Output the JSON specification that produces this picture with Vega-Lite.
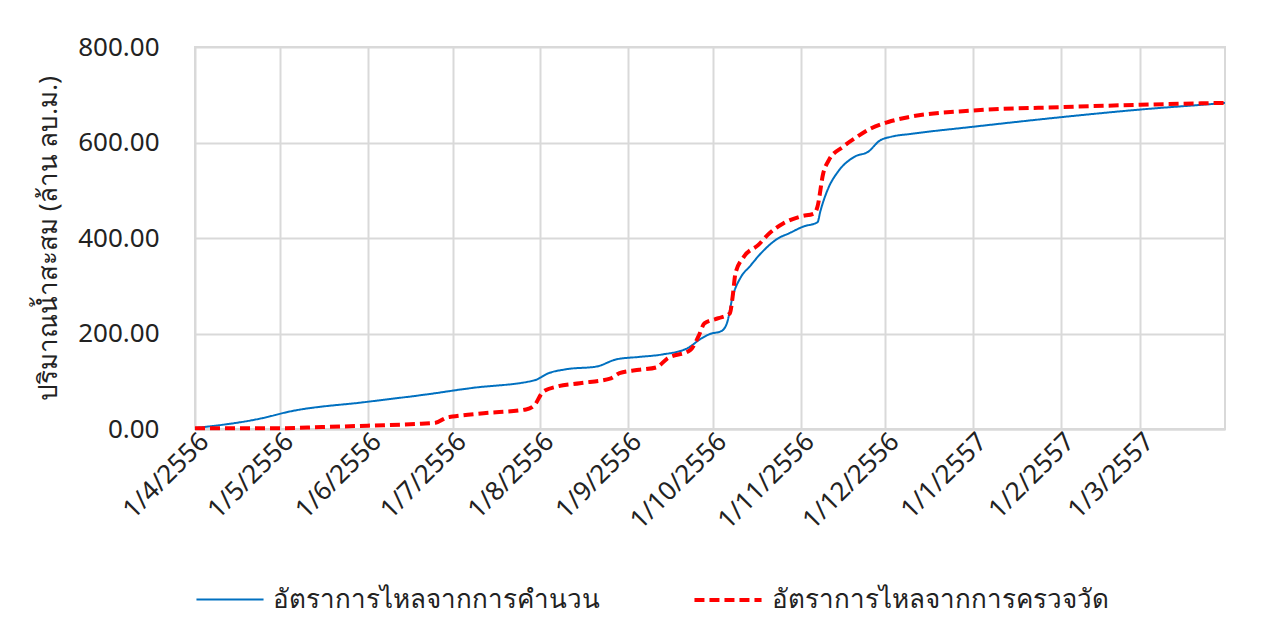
{
  "$schema": "https://vega.github.io/schema/vega-lite/v6.json",
  "width": 1030,
  "height": 382,
  "autosize": {"type": "none"},
  "padding": {"left": 195, "top": 47, "right": 55, "bottom": 191},
  "background": "white",
  "config": {
    "font": "Noto Sans",
    "view": {"stroke": "#d9d9d9", "strokeWidth": 2},
    "axis": {"grid": true, "gridColor": "#d9d9d9", "gridWidth": 2, "ticks": false, "labelColor": "#222222", "labelFont": "Noto Sans", "labelFontSize": 26, "titleFontWeight": "normal"},
    "legend": {"labelFontSize": 26, "labelColor": "#222222", "labelLimit": 600}
  },
  "data": {
    "values": [
      {"date": "2013-04-01", "series": "อัตราการไหลจากการคำนวน", "value": 2},
      {"date": "2013-04-25", "series": "อัตราการไหลจากการคำนวน", "value": 23},
      {"date": "2013-05-04", "series": "อัตราการไหลจากการคำนวน", "value": 36},
      {"date": "2013-06-01", "series": "อัตราการไหลจากการคำนวน", "value": 57},
      {"date": "2013-06-25", "series": "อัตราการไหลจากการคำนวน", "value": 75},
      {"date": "2013-07-03", "series": "อัตราการไหลจากการคำนวน", "value": 82},
      {"date": "2013-07-08", "series": "อัตราการไหลจากการคำนวน", "value": 86},
      {"date": "2013-07-30", "series": "อัตราการไหลจากการคำนวน", "value": 102},
      {"date": "2013-08-04", "series": "อัตราการไหลจากการคำนวน", "value": 117},
      {"date": "2013-08-10", "series": "อัตราการไหลจากการคำนวน", "value": 125},
      {"date": "2013-08-21", "series": "อัตราการไหลจากการคำนวน", "value": 131},
      {"date": "2013-08-28", "series": "อัตราการไหลจากการคำนวน", "value": 146},
      {"date": "2013-09-05", "series": "อัตราการไหลจากการคำนวน", "value": 151},
      {"date": "2013-09-13", "series": "อัตราการไหลจากการคำนวน", "value": 156},
      {"date": "2013-09-22", "series": "อัตราการไหลจากการคำนวน", "value": 169},
      {"date": "2013-09-27", "series": "อัตราการไหลจากการคำนวน", "value": 190},
      {"date": "2013-09-30", "series": "อัตราการไหลจากการคำนวน", "value": 199},
      {"date": "2013-10-04", "series": "อัตราการไหลจากการคำนวน", "value": 205},
      {"date": "2013-10-06", "series": "อัตราการไหลจากการคำนวน", "value": 222},
      {"date": "2013-10-08", "series": "อัตราการไหลจากการคำนวน", "value": 277},
      {"date": "2013-10-11", "series": "อัตราการไหลจากการคำนวน", "value": 319},
      {"date": "2013-10-14", "series": "อัตราการไหลจากการคำนวน", "value": 340},
      {"date": "2013-10-18", "series": "อัตราการไหลจากการคำนวน", "value": 368},
      {"date": "2013-10-24", "series": "อัตราการไหลจากการคำนวน", "value": 399},
      {"date": "2013-10-28", "series": "อัตราการไหลจากการคำนวน", "value": 410},
      {"date": "2013-11-02", "series": "อัตราการไหลจากการคำนวน", "value": 424},
      {"date": "2013-11-07", "series": "อัตราการไหลจากการคำนวน", "value": 433},
      {"date": "2013-11-08", "series": "อัตราการไหลจากการคำนวน", "value": 456},
      {"date": "2013-11-11", "series": "อัตราการไหลจากการคำนวน", "value": 507},
      {"date": "2013-11-14", "series": "อัตราการไหลจากการคำนวน", "value": 537},
      {"date": "2013-11-20", "series": "อัตราการไหลจากการคำนวน", "value": 570},
      {"date": "2013-11-25", "series": "อัตราการไหลจากการคำนวน", "value": 581},
      {"date": "2013-11-29", "series": "อัตราการไหลจากการคำนวน", "value": 604},
      {"date": "2013-12-03", "series": "อัตราการไหลจากการคำนวน", "value": 612},
      {"date": "2013-12-10", "series": "อัตราการไหลจากการคำนวน", "value": 618},
      {"date": "2014-01-01", "series": "อัตราการไหลจากการคำนวน", "value": 633},
      {"date": "2014-02-01", "series": "อัตราการไหลจากการคำนวน", "value": 653},
      {"date": "2014-03-01", "series": "อัตราการไหลจากการคำนวน", "value": 669},
      {"date": "2014-03-27", "series": "อัตราการไหลจากการคำนวน", "value": 681},
      {"date": "2014-03-31", "series": "อัตราการไหลจากการคำนวน", "value": 683},
      {"date": "2013-04-01", "series": "อัตราการไหลจากการครวจวัด", "value": 1.5},
      {"date": "2013-04-30", "series": "อัตราการไหลจากการครวจวัด", "value": 1.5},
      {"date": "2013-05-16", "series": "อัตราการไหลจากการครวจวัด", "value": 4},
      {"date": "2013-06-01", "series": "อัตราการไหลจากการครวจวัด", "value": 7},
      {"date": "2013-06-20", "series": "อัตราการไหลจากการครวจวัด", "value": 11},
      {"date": "2013-06-25", "series": "อัตราการไหลจากการครวจวัด", "value": 13},
      {"date": "2013-06-29", "series": "อัตราการไหลจากการครวจวัด", "value": 24},
      {"date": "2013-07-01", "series": "อัตราการไหลจากการครวจวัด", "value": 26},
      {"date": "2013-07-12", "series": "อัตราการไหลจากการครวจวัด", "value": 33},
      {"date": "2013-07-27", "series": "อัตราการไหลจากการครวจวัด", "value": 41},
      {"date": "2013-07-30", "series": "อัตราการไหลจากการครวจวัด", "value": 50},
      {"date": "2013-08-02", "series": "อัตราการไหลจากการครวจวัด", "value": 78},
      {"date": "2013-08-07", "series": "อัตราการไหลจากการครวจวัด", "value": 89},
      {"date": "2013-08-15", "series": "อัตราการไหลจากการครวจวัด", "value": 96},
      {"date": "2013-08-26", "series": "อัตราการไหลจากการครวจวัด", "value": 106},
      {"date": "2013-08-29", "series": "อัตราการไหลจากการครวจวัด", "value": 117},
      {"date": "2013-09-05", "series": "อัตราการไหลจากการครวจวัด", "value": 124},
      {"date": "2013-09-11", "series": "อัตราการไหลจากการครวจวัด", "value": 129},
      {"date": "2013-09-15", "series": "อัตราการไหลจากการครวจวัด", "value": 148},
      {"date": "2013-09-23", "series": "อัตราการไหลจากการครวจวัด", "value": 165},
      {"date": "2013-09-26", "series": "อัตราการไหลจากการครวจวัด", "value": 195},
      {"date": "2013-09-28", "series": "อัตราการไหลจากการครวจวัด", "value": 221},
      {"date": "2013-10-03", "series": "อัตราการไหลจากการครวจวัด", "value": 232},
      {"date": "2013-10-07", "series": "อัตราการไหลจากการครวจวัด", "value": 242},
      {"date": "2013-10-08", "series": "อัตราการไหลจากการครวจวัด", "value": 277},
      {"date": "2013-10-09", "series": "อัตราการไหลจากการครวจวัด", "value": 326},
      {"date": "2013-10-12", "series": "อัตราการไหลจากการครวจวัด", "value": 361},
      {"date": "2013-10-17", "series": "อัตราการไหลจากการครวจวัด", "value": 385},
      {"date": "2013-10-21", "series": "อัตราการไหลจากการครวจวัด", "value": 410},
      {"date": "2013-10-26", "series": "อัตราการไหลจากการครวจวัด", "value": 431},
      {"date": "2013-11-01", "series": "อัตราการไหลจากการครวจวัด", "value": 445},
      {"date": "2013-11-06", "series": "อัตราการไหลจากการครวจวัด", "value": 452},
      {"date": "2013-11-07", "series": "อัตราการไหลจากการครวจวัด", "value": 466},
      {"date": "2013-11-09", "series": "อัตราการไหลจากการครวจวัด", "value": 535},
      {"date": "2013-11-11", "series": "อัตราการไหลจากการครวจวัด", "value": 563},
      {"date": "2013-11-16", "series": "อัตราการไหลจากการครวจวัด", "value": 591},
      {"date": "2013-11-21", "series": "อัตราการไหลจากการครวจวัด", "value": 612},
      {"date": "2013-11-26", "series": "อัตราการไหลจากการครวจวัด", "value": 630},
      {"date": "2013-12-02", "series": "อัตราการไหลจากการครวจวัด", "value": 643},
      {"date": "2013-12-09", "series": "อัตราการไหลจากการครวจวัด", "value": 653},
      {"date": "2014-01-01", "series": "อัตราการไหลจากการครวจวัด", "value": 667},
      {"date": "2014-02-01", "series": "อัตราการไหลจากการครวจวัด", "value": 674},
      {"date": "2014-03-01", "series": "อัตราการไหลจากการครวจวัด", "value": 679},
      {"date": "2014-03-31", "series": "อัตราการไหลจากการครวจวัด", "value": 683}
    ]
  },
  "mark": {"type": "line", "interpolate": "monotone"},
  "encoding": {
    "x": {
      "field": "date",
      "type": "temporal",
      "scale": {"type": "utc", "domain": [{"year": 2013, "month": 4, "date": 1, "utc": true}, {"year": 2014, "month": 3, "date": 31, "utc": true}]},
      "axis": {
        "title": null,
        "values": [
          {"year": 2013, "month": 4, "date": 1, "utc": true},
          {"year": 2013, "month": 5, "date": 1, "utc": true},
          {"year": 2013, "month": 6, "date": 1, "utc": true},
          {"year": 2013, "month": 7, "date": 1, "utc": true},
          {"year": 2013, "month": 8, "date": 1, "utc": true},
          {"year": 2013, "month": 9, "date": 1, "utc": true},
          {"year": 2013, "month": 10, "date": 1, "utc": true},
          {"year": 2013, "month": 11, "date": 1, "utc": true},
          {"year": 2013, "month": 12, "date": 1, "utc": true},
          {"year": 2014, "month": 1, "date": 1, "utc": true},
          {"year": 2014, "month": 2, "date": 1, "utc": true},
          {"year": 2014, "month": 3, "date": 1, "utc": true}
        ],
        "labelExpr": "utcdate(datum.value) + '/' + (utcmonth(datum.value) + 1) + '/' + (utcyear(datum.value) + 543)",
        "labelAngle": -45,
        "labelAlign": "right",
        "labelBaseline": "middle",
        "labelPadding": 8,
        "labelOffset": 9,
        "labelOverlap": false,
        "labelFlush": false,
        "domainColor": "#d9d9d9",
        "domainWidth": 2
      }
    },
    "y": {
      "field": "value",
      "type": "quantitative",
      "scale": {"domain": [0, 800]},
      "axis": {
        "title": "ปริมาณน้ำสะสม (ล้าน ลบ.ม.)",
        "titleFontSize": 26,
        "titleColor": "#222222",
        "titlePadding": 16,
        "values": [0, 200, 400, 600, 800],
        "format": ".2f",
        "labelPadding": 36,
        "domain": false
      }
    },
    "color": {
      "field": "series",
      "type": "nominal",
      "scale": {"domain": ["อัตราการไหลจากการคำนวน", "อัตราการไหลจากการครวจวัด"], "range": ["#0070C0", "#FF0000"]},
      "legend": {"orient": "bottom", "direction": "horizontal", "title": null, "symbolType": "stroke", "symbolSize": 4500, "symbolStrokeWidth": 3, "labelOffset": 8, "columnPadding": 86, "offset": 30}
    },
    "strokeDash": {
      "field": "series",
      "type": "nominal",
      "scale": {"domain": ["อัตราการไหลจากการคำนวน", "อัตราการไหลจากการครวจวัด"], "range": [[1, 0], [10, 5]]},
      "legend": {"orient": "bottom", "direction": "horizontal", "title": null, "symbolType": "stroke", "symbolSize": 4500, "symbolStrokeWidth": 3, "labelOffset": 8, "columnPadding": 86, "offset": 30}
    },
    "strokeWidth": {
      "field": "series",
      "type": "nominal",
      "scale": {"domain": ["อัตราการไหลจากการคำนวน", "อัตราการไหลจากการครวจวัด"], "range": [2, 4]},
      "legend": null
    }
  }
}
